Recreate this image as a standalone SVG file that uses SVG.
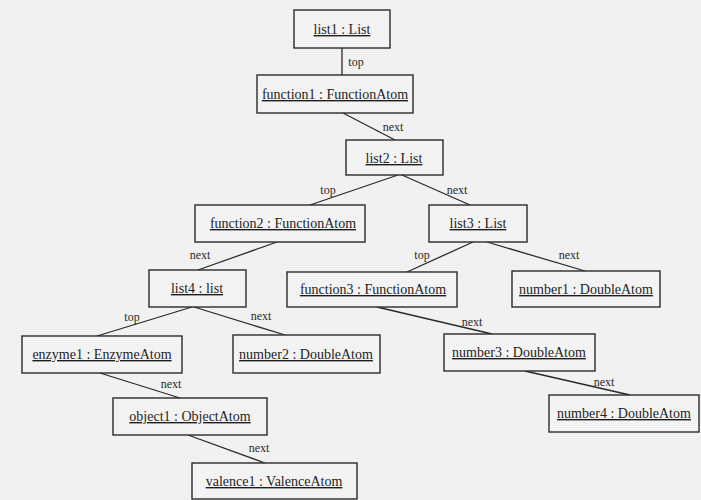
<svg xmlns="http://www.w3.org/2000/svg" width="701" height="500" viewBox="0 0 701 500">
  <style>
    .box { fill: #f3f3f3; stroke: #2a2a2a; stroke-width: 1.4; }
    .name { font-family: "Liberation Serif", "Times New Roman", serif; font-size: 14px; fill: #1e1e1e; text-anchor: middle; text-decoration: underline; }
    .role { font-family: "Liberation Serif", "Times New Roman", serif; font-size: 12px; fill: #2a2a2a; text-anchor: middle; }
    .link { stroke: #2a2a2a; stroke-width: 1.3; fill: none; }
  </style>
  <rect width="701" height="500" fill="#f1f1f1"/>

  <!-- links between objects -->
  <g id="connectors">
    <line class="link" x1="342" y1="48" x2="342" y2="75"/>
    <line class="link" x1="343" y1="113" x2="395" y2="140"/>
    <line class="link" x1="398" y1="175" x2="310" y2="205"/>
    <line class="link" x1="402" y1="175" x2="470" y2="205"/>
    <line class="link" x1="277" y1="242" x2="198" y2="270"/>
    <line class="link" x1="473" y1="242" x2="407" y2="272"/>
    <line class="link" x1="487" y1="242" x2="585" y2="271"/>
    <line class="link" x1="192" y1="307" x2="97" y2="336"/>
    <line class="link" x1="194" y1="307" x2="285" y2="335"/>
    <line class="link" x1="377" y1="307" x2="492" y2="334"/>
    <line class="link" x1="100" y1="373" x2="180" y2="398"/>
    <line class="link" x1="525" y1="371" x2="630" y2="395"/>
    <line class="link" x1="188" y1="435" x2="265" y2="463"/>

    <text class="role" x="356" y="66">top</text>
    <text class="role" x="393" y="131">next</text>
    <text class="role" x="328" y="194">top</text>
    <text class="role" x="457" y="194">next</text>
    <text class="role" x="200" y="259">next</text>
    <text class="role" x="422" y="259">top</text>
    <text class="role" x="569" y="259">next</text>
    <text class="role" x="132" y="321">top</text>
    <text class="role" x="261" y="320">next</text>
    <text class="role" x="472" y="326">next</text>
    <text class="role" x="171" y="388">next</text>
    <text class="role" x="604" y="386">next</text>
    <text class="role" x="259" y="452">next</text>
  </g>

  <g id="list1">
    <rect class="box" x="294" y="10" width="96" height="38"/>
    <text class="name" x="342" y="34">list1 : List</text>
  </g>
  <g id="function1">
    <rect class="box" x="257" y="75" width="156" height="38"/>
    <text class="name" x="335" y="99">function1 : FunctionAtom</text>
  </g>
  <g id="list2">
    <rect class="box" x="346" y="140" width="97" height="35"/>
    <text class="name" x="394" y="163">list2 : List</text>
  </g>
  <g id="function2">
    <rect class="box" x="195" y="205" width="170" height="37"/>
    <text class="name" x="283" y="228">function2 : FunctionAtom</text>
  </g>
  <g id="list3">
    <rect class="box" x="429" y="205" width="98" height="37"/>
    <text class="name" x="478" y="228">list3 : List</text>
  </g>
  <g id="list4">
    <rect class="box" x="149" y="270" width="97" height="37"/>
    <text class="name" x="197" y="293">list4 : list</text>
  </g>
  <g id="function3">
    <rect class="box" x="287" y="272" width="170" height="35"/>
    <text class="name" x="373" y="294">function3 : FunctionAtom</text>
  </g>
  <g id="number1">
    <rect class="box" x="512" y="271" width="148" height="36"/>
    <text class="name" x="586" y="294">number1 : DoubleAtom</text>
  </g>
  <g id="enzyme1">
    <rect class="box" x="22" y="336" width="160" height="37"/>
    <text class="name" x="102" y="359">enzyme1 : EnzymeAtom</text>
  </g>
  <g id="number2">
    <rect class="box" x="233" y="335" width="147" height="38"/>
    <text class="name" x="306" y="359">number2 : DoubleAtom</text>
  </g>
  <g id="number3">
    <rect class="box" x="444" y="334" width="151" height="37"/>
    <text class="name" x="519" y="357">number3 : DoubleAtom</text>
  </g>
  <g id="object1">
    <rect class="box" x="113" y="398" width="154" height="37"/>
    <text class="name" x="190" y="421">object1 : ObjectAtom</text>
  </g>
  <g id="number4">
    <rect class="box" x="549" y="395" width="150" height="37"/>
    <text class="name" x="624" y="418">number4 : DoubleAtom</text>
  </g>
  <g id="valence1">
    <rect class="box" x="192" y="463" width="165" height="36"/>
    <text class="name" x="274" y="486">valence1 : ValenceAtom</text>
  </g>
</svg>
